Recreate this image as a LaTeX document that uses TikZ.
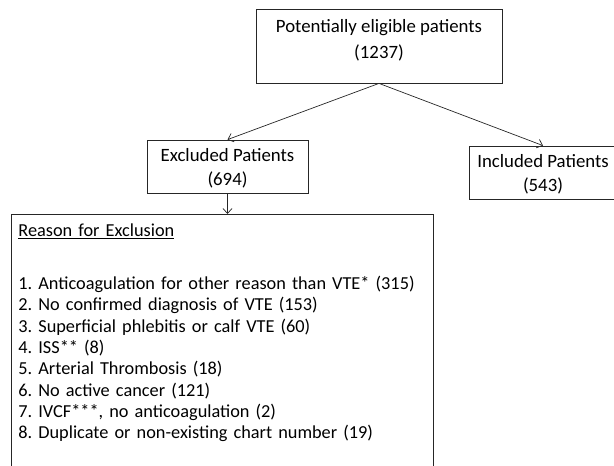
\documentclass[tikz,border=0pt]{standalone}
\usepackage{fontspec}
\setmainfont{Carlito}
\usetikzlibrary{arrows.meta,positioning}
\frenchspacing

\begin{document}
\begin{tikzpicture}[
    x=1pt, y=-1pt,
    box/.style={rectangle, draw=black!85, line width=0.8pt, align=center, inner sep=0pt, font=\fontsize{18.8}{24}\selectfont},
    arrow/.style={-{Straight Barb[length=5pt,width=9pt]}, line width=0.7pt, black!85}
]
\useasboundingbox (0,0) rectangle (614,466);

\node[box, minimum width=246pt, minimum height=74pt, text depth=13.5pt, font=\fontsize{18.8}{26}\selectfont] (eligible) at (379,46) {Potentially eligible patients\\(1237)};
\node[box, minimum width=161pt, minimum height=53pt, text depth=0pt] (excluded) at (227.5,166.5) {Excluded Patients\\(694)};
\node[box, minimum width=148pt, minimum height=53pt, text depth=0pt] (included) at (543,172.5) {Included Patients\\(543)};
\node[box, anchor=north west, align=left, text width=407.5pt, inner xsep=7.5pt, inner ysep=9.5pt, font=\fontsize{18.3}{21.3}\selectfont] (reasons) at (10.5,214) {\underline{Reason for Exclusion}\\[31.7pt]
1. Anticoagulation for other reason than VTE* (315)\\
2. No confirmed diagnosis of VTE (153)\\
3. Superficial phlebitis or calf VTE (60)\\
4. ISS** (8)\\
5. Arterial Thrombosis (18)\\
6. No active cancer (121)\\
7. IVCF***, no anticoagulation (2)\\
8. Duplicate or non-existing chart number (19)\rule[-40pt]{0pt}{0pt}};

\draw[arrow] (eligible.south) -- (excluded.north);
\draw[arrow] (eligible.south) -- (included.north);
\draw[arrow] (excluded.south) -- (excluded.south |- reasons.north);

\end{tikzpicture}
\end{document}
